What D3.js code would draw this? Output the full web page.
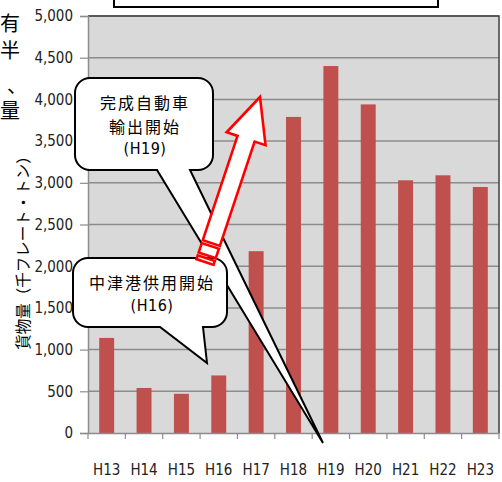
<!DOCTYPE html>
<html><head><meta charset="utf-8">
<script src="https://cdn.jsdelivr.net/npm/d3@7"></script>
<style>
html,body{margin:0;padding:0;background:#fff;}
svg{display:block;}
</style></head>
<body>
<svg id="c" width="502" height="482"></svg>
<script>
const years = ["H13","H14","H15","H16","H17","H18","H19","H20","H21","H22","H23"];
const cargo = [1140, 540, 470, 690, 2180, 3790, 4400, 3940, 3030, 3090, 2950];
const yTicks = [0,500,1000,1500,2000,2500,3000,3500,4000,4500,5000];
const yTitle = "貨物量（千フレート・トン）";
const note1 = ["完成自動車","輸出開始","(H19)"];
const note2 = ["中津港供用開始","(H16)"];
const sideChars = ["有","半","、","量"];

const svg = d3.select("#c");
const L = 88, R = 499, T = 16, B = 433;
const x = d3.scaleBand().domain(years).range([L, R]).paddingInner(0.6).paddingOuter(0.3);
const y = d3.scaleLinear().domain([0, 5000]).range([B, T]);
const narrow = "'DejaVu Sans Condensed','Liberation Sans Narrow','Arial Narrow',sans-serif";
const jp = "'Noto Sans CJK JP','Noto Sans',sans-serif";

// side text
const sx = [0,0,7,0], sy = [31,58,93,118];
svg.selectAll("text.side").data(sideChars).join("text").attr("class","side")
  .attr("x",(d,i)=>sx[i]).attr("y",(d,i)=>sy[i]).attr("font-family",jp).attr("font-size",20)
  .attr("fill","#000").text(d=>d);

// top clipped box
svg.append("rect").attr("x",114).attr("y",-4).attr("width",324).attr("height",11)
  .attr("fill","#fff").attr("stroke","#000").attr("stroke-width",2);

// plot background
svg.append("rect").attr("x",L).attr("y",T).attr("width",R-L).attr("height",B-T).attr("fill","#d9d9d9");

// gridlines
svg.append("g").selectAll("line").data(yTicks.filter(v=>v>0)).join("line")
  .attr("x1",L).attr("x2",R).attr("y1",d=>y(d)).attr("y2",d=>y(d))
  .attr("stroke","#8c8c8c").attr("stroke-width",1.5);

// bars
svg.append("g").selectAll("rect").data(cargo).join("rect")
  .attr("x",(d,i)=>x(years[i])).attr("width",x.bandwidth())
  .attr("y",d=>y(d)).attr("height",d=>B-y(d)).attr("fill","#c0504d");

// border top/right
svg.append("path").attr("d",`M${L},${T}H${R}V${B}`).attr("fill","none").attr("stroke","#404040").attr("stroke-width",1.5);

// y axis
const ya = svg.append("g").attr("transform",`translate(${L},0)`)
  .call(d3.axisLeft(y).tickValues(yTicks).tickFormat(d3.format(",")).tickSize(8).tickPadding(7));
ya.select(".domain").attr("stroke","#8c8c8c").attr("stroke-width",1.5);
ya.selectAll(".tick line").attr("stroke","#8c8c8c").attr("stroke-width",1.2);
ya.selectAll("text").attr("font-family",narrow).attr("font-size",15).attr("fill","#222");

// x axis
const xa = svg.append("g").attr("transform",`translate(0,${B})`)
  .call(d3.axisBottom(x).tickSize(0).tickPadding(31));
xa.select(".domain").attr("stroke","#8c8c8c").attr("stroke-width",1.5);
xa.selectAll("text").attr("font-family",narrow).attr("font-size",15).attr("fill","#222");
const bounds = years.map(d => x(d) - (x.step()-x.bandwidth())/2).concat([R]);
xa.selectAll("line.bt").data(bounds).join("line").attr("class","bt")
  .attr("x1",d=>d).attr("x2",d=>d).attr("y1",0).attr("y2",6)
  .attr("stroke","#8c8c8c").attr("stroke-width",1.2);

// y title
svg.append("text").attr("transform","translate(29,249) rotate(-90)")
  .attr("text-anchor","middle").attr("font-family",jp).attr("font-size",15.5).attr("fill","#000")
  .text(yTitle);

// callout builder
function callout(x0,y0,x1,y1,r,bl,br,tip){
  const p = d3.path();
  p.moveTo(x0+r,y0); p.lineTo(x1-r,y0); p.arcTo(x1,y0,x1,y0+r,r);
  p.lineTo(x1,y1-r); p.arcTo(x1,y1,x1-r,y1,r);
  p.lineTo(br,y1); p.lineTo(tip[0],tip[1]); p.lineTo(bl,y1);
  p.lineTo(x0+r,y1); p.arcTo(x0,y1,x0,y1-r,r);
  p.lineTo(x0,y0+r); p.arcTo(x0,y0,x0+r,y0,r); p.closePath();
  return p.toString();
}

// H19 callout
svg.append("path").attr("d",callout(75,78,213,170,15,157,190,[323,443]))
  .attr("fill","#fff").attr("stroke","#000").attr("stroke-width",2).attr("stroke-linejoin","miter");
svg.selectAll("text.n1").data(note1).join("text").attr("class","n1")
  .attr("x",145).attr("y",(d,i)=>[109,133,154][i]).attr("text-anchor","middle")
  .attr("font-family",(d,i)=>i==2?narrow:jp).attr("font-size",16)
  .attr("letter-spacing",(d,i)=>i==2?0.5:2).attr("fill","#000").text(d=>d);

// H16 callout
svg.append("path").attr("d",callout(73,258,227,327,15,160,203,[207,363]))
  .attr("fill","#fff").attr("stroke","#000").attr("stroke-width",2);
svg.selectAll("text.n2").data(note2).join("text").attr("class","n2")
  .attr("x",152).attr("y",(d,i)=>[289,311][i]).attr("text-anchor","middle")
  .attr("font-family",(d,i)=>i==1?narrow:jp).attr("font-size",16)
  .attr("letter-spacing",(d,i)=>i==1?0.5:2).attr("fill","#000").text(d=>d);

// red striped arrow
(function(){
  const base=[205,262], tip=[260,97];
  const dx=tip[0]-base[0], dy=tip[1]-base[1], len=Math.hypot(dx,dy);
  const ang = Math.atan2(dy,dx)*180/Math.PI;
  const g = svg.append("g").attr("transform",`translate(${base[0]},${base[1]}) rotate(${ang})`);
  const sw=9, hw=20.5, hl=44;
  const st = {fill:"#fff",stroke:"#ff0000","stroke-width":2.6};
  const ap = `M20,${-sw}L${len-hl},${-sw}L${len-hl},${-hw}L${len},0L${len-hl},${hw}L${len-hl},${sw}L20,${sw}Z`;
  const a = g.append("path").attr("d",ap);
  Object.entries(st).forEach(([k,v])=>a.attr(k,v));
  [[0,4],[7,17]].forEach(([u0,u1])=>{
    const rr = g.append("rect").attr("x",u0).attr("y",-sw).attr("width",u1-u0).attr("height",2*sw);
    Object.entries(st).forEach(([k,v])=>rr.attr(k,v));
  });
})();
</script>
</body></html>
